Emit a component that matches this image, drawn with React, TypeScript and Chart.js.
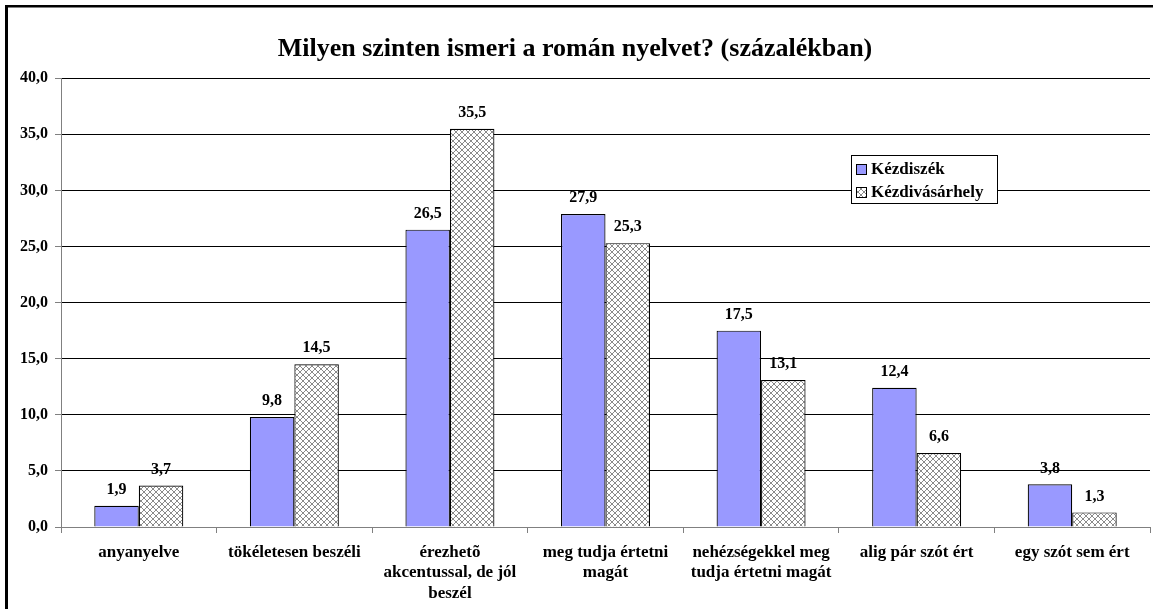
import React, { useEffect, useRef } from 'react';
import { Chart, registerables } from 'chart.js';

Chart.register(...registerables);

const chartTitle = 'Milyen szinten ismeri a román nyelvet? (százalékban)';
const categories: (string | string[])[] = [
  'anyanyelve',
  'tökéletesen beszéli',
  ['érezhetõ', 'akcentussal, de jól', 'beszél'],
  ['meg tudja értetni', 'magát'],
  ['nehézségekkel meg', 'tudja értetni magát'],
  'alig pár szót ért',
  'egy szót sem ért',
];
const seriesNames = ['Kézdiszék', 'Kézdivásárhely'];
const kezdiszek = [1.9, 9.8, 26.5, 27.9, 17.5, 12.4, 3.8];
const kezdivasarhely = [3.7, 14.5, 35.5, 25.3, 13.1, 6.6, 1.3];
const yMin = 0;
const yMax = 40;
const yStep = 5;

const FONT = '"Liberation Serif", "Times New Roman", serif';
const fmt = (v: number) => v.toFixed(1).replace('.', ',');

function makeHatch(): CanvasPattern | string {
  const c = document.createElement('canvas');
  c.width = 6;
  c.height = 6;
  const x = c.getContext('2d');
  if (!x) return '#ccc';
  x.fillStyle = '#ffffff';
  x.fillRect(0, 0, 6, 6);
  x.strokeStyle = '#3a3a3a';
  x.lineWidth = 0.6;
  x.beginPath();
  x.moveTo(-1, -1);
  x.lineTo(7, 7);
  x.moveTo(7, -1);
  x.lineTo(-1, 7);
  x.stroke();
  return x.createPattern(c, 'repeat') || '#ccc';
}

const borderPlugin = {
  id: 'outerBorder',
  beforeDraw(chart: any) {
    const ctx = chart.ctx;
    ctx.save();
    ctx.fillStyle = '#ffffff';
    ctx.fillRect(0, 0, chart.width, chart.height);
    ctx.fillStyle = '#000000';
    ctx.fillRect(5, 5, 3, chart.height);
    ctx.fillRect(5, 5, chart.width, 2.5);
    ctx.restore();
  },
};

const valueLabelPlugin = {
  id: 'valueLabels',
  afterDatasetsDraw(chart: any) {
    const ctx = chart.ctx;
    ctx.save();
    ctx.font = `bold 16px ${FONT}`;
    ctx.fillStyle = '#000';
    ctx.textAlign = 'center';
    ctx.textBaseline = 'middle';
    chart.data.datasets.forEach((ds: any, i: number) => {
      const meta = chart.getDatasetMeta(i);
      meta.data.forEach((el: any, j: number) => {
        ctx.fillText(fmt(ds.data[j] as number), el.x, el.y - 16);
      });
    });
    ctx.restore();
  },
};

const boxLegendPlugin = {
  id: 'boxLegend',
  afterDraw(chart: any) {
    const ctx = chart.ctx;
    const left = 851;
    const top = 155;
    const w = 146;
    const h = 48;
    ctx.save();
    ctx.fillStyle = '#fff';
    ctx.fillRect(left, top, w, h);
    ctx.strokeStyle = '#000';
    ctx.lineWidth = 1;
    ctx.strokeRect(left + 0.5, top + 0.5, w, h);
    ctx.font = `bold 17px ${FONT}`;
    ctx.textBaseline = 'middle';
    ctx.textAlign = 'left';
    chart.data.datasets.forEach((ds: any, i: number) => {
      const cy = top + 14 + i * 23;
      ctx.fillStyle = ds.backgroundColor;
      ctx.fillRect(856, cy - 5, 10, 10);
      ctx.strokeStyle = '#000';
      ctx.strokeRect(856.5, cy - 4.5, 10, 10);
      ctx.fillStyle = '#000';
      ctx.fillText(ds.label, 871, cy + 1);
    });
    ctx.restore();
  },
};

export default function App() {
  const ref = useRef<HTMLCanvasElement | null>(null);

  useEffect(() => {
    if (!ref.current) return;
    const hatch = makeHatch();
    const chart = new Chart(ref.current, {
      type: 'bar',
      data: {
        labels: categories,
        datasets: [
          {
            label: seriesNames[0],
            data: kezdiszek,
            backgroundColor: '#9999FF',
            borderColor: '#000',
            borderWidth: 1.2,
            categoryPercentage: 0.572,
            barPercentage: 1,
          },
          {
            label: seriesNames[1],
            data: kezdivasarhely,
            backgroundColor: hatch as any,
            borderColor: '#000',
            borderWidth: 1.2,
            categoryPercentage: 0.572,
            barPercentage: 1,
          },
        ],
      },
      options: {
        responsive: false,
        animation: false,
        devicePixelRatio: 1,
        layout: { padding: { left: 0, right: 3, top: 0, bottom: 0 } },
        plugins: {
          legend: { display: false },
          tooltip: { enabled: false },
          title: {
            display: true,
            text: chartTitle,
            color: '#000',
            font: { family: FONT, size: 26, weight: 'bold', lineHeight: 1.2 },
            padding: { top: 34, bottom: 13 },
          },
        },
        scales: {
          x: {
            afterFit: (scale: any) => {
              scale.height = 82;
            },
            grid: {
              drawOnChartArea: false,
              drawTicks: true,
              tickLength: 6,
              tickColor: '#808080',
              offset: true,
            },
            border: { display: true, color: '#808080', width: 1 },
            ticks: {
              color: '#000',
              font: { family: FONT, size: 17, weight: 'bold', lineHeight: 1.18 },
              padding: 10,
              maxRotation: 0,
              minRotation: 0,
              autoSkip: false,
            },
          },
          y: {
            min: yMin,
            max: yMax,
            afterFit: (scale: any) => {
              scale.width = 61;
            },
            grid: {
              color: (c: any) => (c.tick && c.tick.value === 0 ? '#808080' : '#000'),
              tickColor: '#808080',
              tickLength: 6,
              lineWidth: 1,
            },
            border: { display: true, color: '#808080', width: 1 },
            ticks: {
              stepSize: yStep,
              color: '#000',
              font: { family: FONT, size: 16, weight: 'bold' },
              padding: 7,
              callback: (v: any) => fmt(Number(v)),
            },
          },
        },
      },
      plugins: [borderPlugin, valueLabelPlugin, boxLegendPlugin],
    } as any);
    return () => chart.destroy();
  }, []);

  return (
    <div style={{ position: 'fixed', left: 0, top: 0, width: 1153, height: 609 }}>
      <canvas ref={ref} width={1153} height={609} style={{ display: 'block' }} />
    </div>
  );
}
